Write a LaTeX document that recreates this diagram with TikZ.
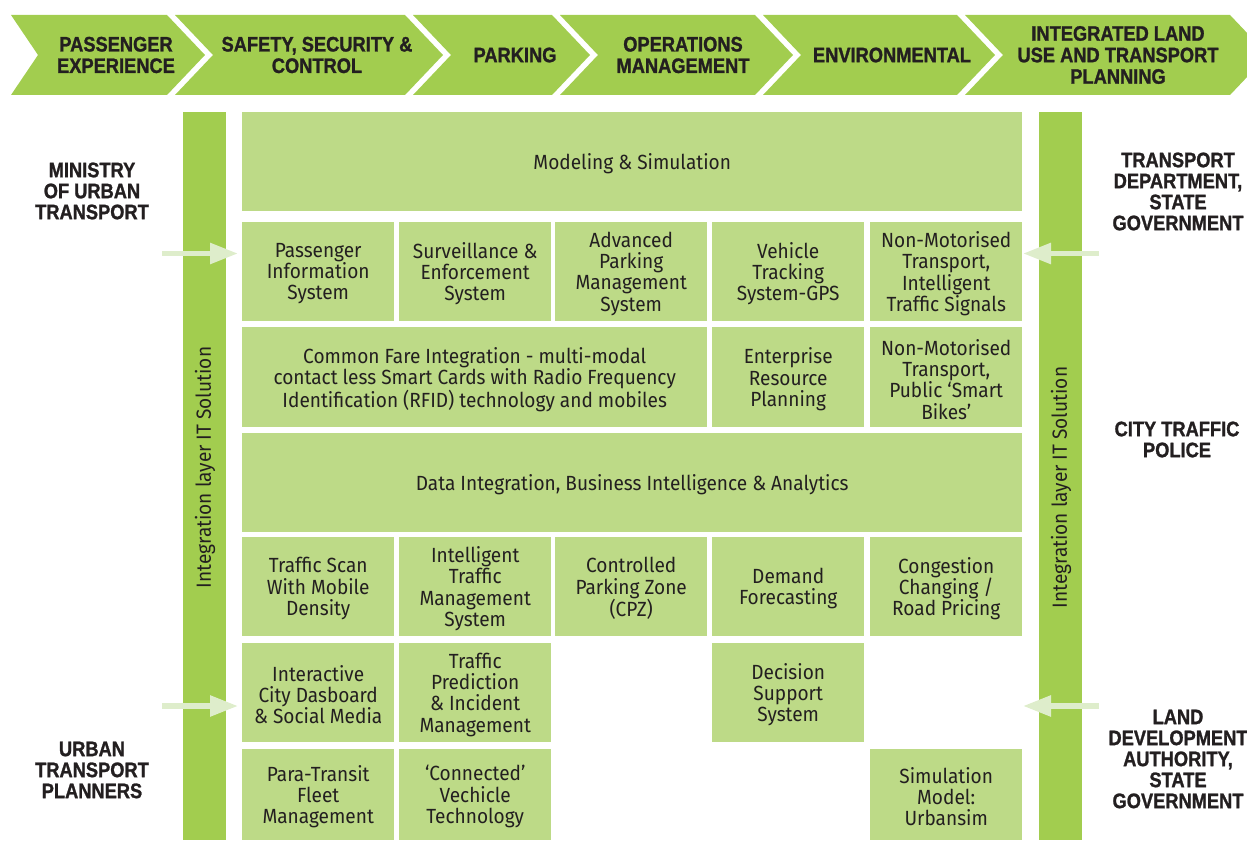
\documentclass[tikz,border=0pt]{standalone}
\usepackage{fontspec}
\newfontfamily\bodyfam[FakeStretch=0.93]{Fira Sans}
\newfontfamily\headfam[FakeStretch=0.87,BoldFeatures={FakeBold=1.2}]{Liberation Sans}
\usetikzlibrary{arrows.meta}
\definecolor{chev}{HTML}{A2CD4F}
\definecolor{boxg}{HTML}{BDDA87}
\definecolor{arrg}{HTML}{DEEDCB}
\definecolor{ink}{HTML}{231F20}
\tikzset{
  chevshape/.style={fill=chev, draw=none},
  headtext/.style={text=ink, align=center, inner sep=0pt, font=\headfam\bfseries\fontsize{21}{21.5}\selectfont},
  sidetext/.style={text=ink, align=center, inner sep=0pt, font=\headfam\bfseries\fontsize{21}{21}\selectfont},
  cell/.style={fill=boxg, draw=none, anchor=north west, inner sep=0pt},
  celltext/.style={inner sep=0pt, align=center, text=ink,
    font=\bodyfam\fontsize{20.5}{21.3}\selectfont},
  bar/.style={fill=chev, draw=none, anchor=north west, inner sep=0pt, minimum width=43pt, minimum height=728pt},
  bartext/.style={rotate=90, text=ink, inner sep=0pt, font=\bodyfam\fontsize{20.5}{21.3}\selectfont},
  inarrow/.style={draw=arrg, line width=5.5pt, -{Triangle[length=28pt,width=20pt]}}
}
\newcommand{\cellbox}[6]{% name, x1, y1, x2, y2, text
  \node[cell, minimum width={#4-#2}, minimum height={#5-#3}] (#1) at (#2,#3) {};
  \node[celltext] (#1-t) at ([yshift=-2pt]#1.center) {#6};}
\begin{document}
\begin{tikzpicture}[x=1pt,y=-1pt]
\useasboundingbox (0,0) rectangle (1247,842);
% chevrons
\fill[chevshape] (11,15) -- (167,15) -- (205,55) -- (167,95) -- (11,95) -- (38,55) -- cycle;
\fill[chevshape] (175,15) -- (405,15) -- (443,55) -- (405,95) -- (175,95) -- (213,55) -- cycle;
\fill[chevshape] (413,15) -- (552,15) -- (590,55) -- (552,95) -- (413,95) -- (451,55) -- cycle;
\fill[chevshape] (560,15) -- (755,15) -- (793,55) -- (755,95) -- (560,95) -- (598,55) -- cycle;
\fill[chevshape] (763,15) -- (957,15) -- (995,55) -- (957,95) -- (763,95) -- (801,55) -- cycle;
\fill[chevshape] (965,15) -- (1230,15) -- (1268,55) -- (1230,95) -- (965,95) -- (1003,55) -- cycle;
\node[headtext] (h1) at (116,55) {PASSENGER\\EXPERIENCE};
\node[headtext] (h2) at (317,55) {SAFETY, SECURITY \&\\CONTROL};
\node[headtext] (h3) at (515,55) {PARKING};
\node[headtext] (h4) at (683,55) {OPERATIONS\\MANAGEMENT};
\node[headtext] (h5) at (892,55) {ENVIRONMENTAL};
\node[headtext] (h6) at (1118,55) {INTEGRATED LAND\\USE AND TRANSPORT\\PLANNING};
% side labels
\node[sidetext] (s1) at (92,191) {MINISTRY\\OF URBAN\\TRANSPORT};
\node[sidetext] (s2) at (92,770) {URBAN\\TRANSPORT\\PLANNERS};
\node[sidetext] (s3) at (1178,191.5) {TRANSPORT\\DEPARTMENT,\\STATE\\GOVERNMENT};
\node[sidetext] (s4) at (1177,439.5) {CITY TRAFFIC\\POLICE};
\node[sidetext] (s5) at (1178,759) {LAND\\DEVELOPMENT\\AUTHORITY,\\STATE\\GOVERNMENT};
% bars
\node[bar] (lbar) at (183,112) {};
\node[bar] (rbar) at (1039,112) {};
\node[bartext] (lbt) at (205,467.5) {Integration layer IT Solution};
\node[bartext] (rbt) at (1061,487.5) {Integration layer IT Solution};
% cells
\cellbox{model}{242}{112}{1022}{211}{Modeling \& Simulation}
\cellbox{pis}{242}{222}{394}{321}{Passenger\\Information\\System}
\cellbox{ses}{399}{222}{551}{321}{Surveillance \&\\Enforcement\\System}
\cellbox{apm}{555}{222}{707}{321}{Advanced\\Parking\\Management\\System}
\cellbox{vts}{712}{222}{864}{321}{Vehicle\\Tracking\\System-GPS}
\cellbox{nmt}{870}{222}{1022}{321}{Non-Motorised\\Transport,\\Intelligent\\Traffic Signals}
\cellbox{cfi}{242}{327}{707}{427}{Common Fare Integration - multi-modal\\contact less Smart Cards with Radio Frequency\\Identification (RFID) technology and mobiles}
\cellbox{erp}{712}{327}{864}{427}{Enterprise\\Resource\\Planning}
\cellbox{nmb}{870}{327}{1022}{427}{Non-Motorised\\Transport,\\Public ‘Smart\\Bikes’}
\cellbox{dia}{242}{433}{1022}{532}{Data Integration, Business Intelligence \& Analytics}
\cellbox{tsm}{242}{537}{394}{636}{Traffic Scan\\With Mobile\\Density}
\cellbox{itm}{399}{537}{551}{636}{Intelligent\\Traffic\\Management\\System}
\cellbox{cpz}{555}{537}{707}{636}{Controlled\\Parking Zone\\(CPZ)}
\cellbox{dfc}{712}{537}{864}{636}{Demand\\Forecasting}
\cellbox{ccr}{870}{537}{1022}{636}{Congestion\\Changing /\\Road Pricing}
\cellbox{icd}{242}{643}{394}{742}{Interactive\\City Dasboard\\\& Social Media}
\cellbox{tpi}{399}{643}{551}{742}{Traffic\\Prediction\\\& Incident\\Management}
\cellbox{dss}{712}{643}{864}{742}{Decision\\Support\\System}
\cellbox{ptf}{242}{749}{394}{840}{Para-Transit\\Fleet\\Management}
\cellbox{cvt}{399}{749}{551}{840}{‘Connected’\\Vechicle\\Technology}
\cellbox{smu}{870}{749}{1022}{840}{Simulation\\Model:\\Urbansim}
% arrows
\coordinate (la1s) at (162,253.5); \coordinate (la1e) at (238,253.5);
\coordinate (la2s) at (162,706); \coordinate (la2e) at (238,706);
\coordinate (ra1s) at (1099,253.5); \coordinate (ra1e) at (1023,253.5);
\coordinate (ra2s) at (1099,706); \coordinate (ra2e) at (1023,706);
\draw[inarrow] (la1s) -- (la1e);
\draw[inarrow] (la2s) -- (la2e);
\draw[inarrow] (ra1s) -- (ra1e);
\draw[inarrow] (ra2s) -- (ra2e);
\end{tikzpicture}
\end{document}
